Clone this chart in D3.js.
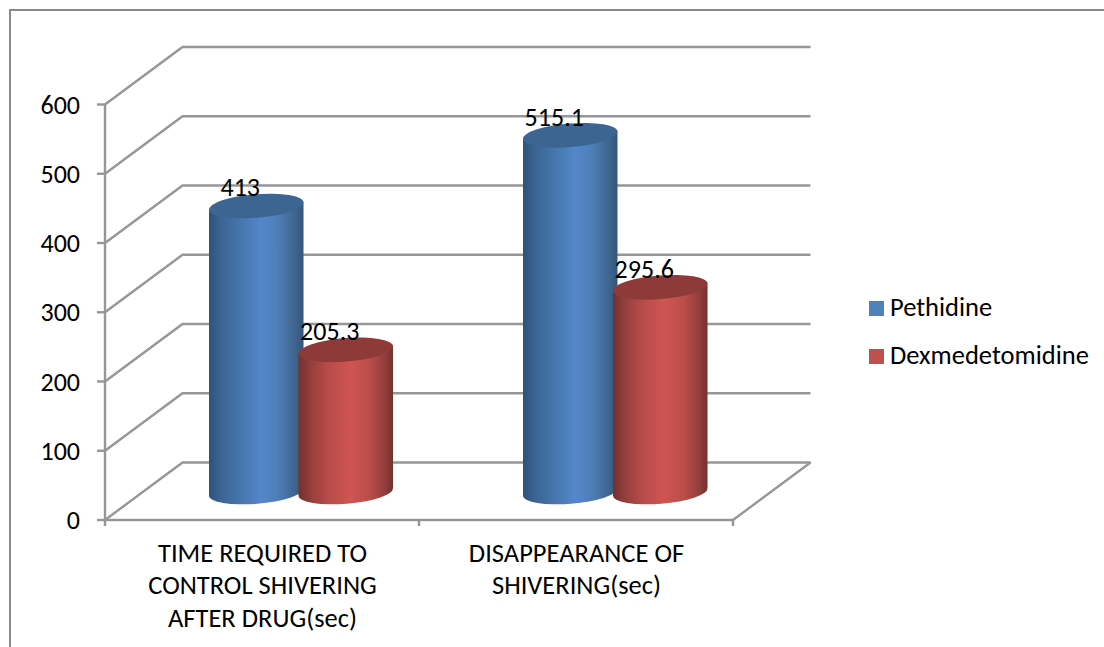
<!DOCTYPE html>
<html>
<head>
<meta charset="utf-8">
<script src="https://cdnjs.cloudflare.com/ajax/libs/d3/7.8.5/d3.min.js"></script>
<style>
html,body{margin:0;padding:0;background:#fff;}
svg{display:block;}
text{font-family:"Carlito","Lato","Open Sans",sans-serif;fill:#000;}
</style>
</head>
<body>
<svg id="chart" width="1104" height="647"></svg>
<script>
const categories = [
  ["TIME REQUIRED TO", "CONTROL SHIVERING", "AFTER DRUG(sec)"],
  ["DISAPPEARANCE OF", "SHIVERING(sec)"]
];
const seriesNames = ["Pethidine", "Dexmedetomidine"];
const pethidine = [413, 515.1];
const dexmedetomidine = [205.3, 295.6];
const valueLabels = [["413", "515.1"], ["205.3", "295.6"]];
const ticks = [0, 100, 200, 300, 400, 500, 600];

const svg = d3.select("#chart");
const grid = "#969696";

// Front plane, back wall offset and the scale used by the cylinders
const yFront = d3.scaleLinear().domain([0, 600]).range([520, 104.5]);
const depth = {dx: 77.5, dy: -57.5};
const xFront = d3.scaleLinear().domain([0, 2]).range([105, 733]);
const yBar = d3.scaleLinear().domain([0, 600]).range([492, 76.5]);

// Outer chart frame
svg.append("path")
  .attr("d", "M10,647V10H1104")
  .attr("fill", "none").attr("stroke", "#8a8a8a").attr("stroke-width", 2);

// Gridlines on the side and back walls
const walls = svg.append("g").attr("fill", "none").attr("stroke", grid).attr("stroke-width", 2.4);
walls.selectAll("path").data(ticks).join("path")
  .attr("d", t => {
    const y = yFront(t);
    return `M${xFront(0)},${y}L${xFront(0) + depth.dx},${y + depth.dy}H${xFront(2) + depth.dx}`;
  });
walls.append("path")
  .attr("d", `M${xFront(2)},${yFront(0)}L${xFront(2) + depth.dx},${yFront(0) + depth.dy}`);

// Axis lines and tick marks
const axes = svg.append("g").attr("fill", "none").attr("stroke", grid).attr("stroke-width", 2.4);
axes.append("path").attr("d", `M${xFront(0)},${yFront(600)}V${yFront(0)}H${xFront(2)}`);
axes.selectAll(".ytick").data(ticks).join("path").attr("class", "ytick")
  .attr("d", t => `M${xFront(0) - 8},${yFront(t)}H${xFront(0)}`);
axes.selectAll(".xtick").data([0, 1, 2]).join("path").attr("class", "xtick")
  .attr("d", i => `M${xFront(i)},${yFront(0)}V${yFront(0) + 6}`);

// Value axis labels
svg.append("g").selectAll("text").data(ticks).join("text")
  .attr("x", 80).attr("y", t => yFront(t) + 9)
  .attr("text-anchor", "end").attr("font-size", 26)
  .text(d => d);

// Shading across the cylinder sides
const defs = svg.append("defs");
const shades = [
  [["0%", "#2f5279"], ["12%", "#3a6492"], ["30%", "#4573a8"], ["55%", "#5387ca"], ["72%", "#4f7fb9"], ["90%", "#3f6692"], ["100%", "#345679"]],
  [["0%", "#74302e"], ["14%", "#96403e"], ["32%", "#b94c4a"], ["55%", "#cf5552"], ["75%", "#bb4d4a"], ["92%", "#8f3e3b"], ["100%", "#742f2d"]]
];
shades.forEach((stops, i) => {
  const g = defs.append("linearGradient").attr("id", `side${i}`)
    .attr("x1", 0).attr("x2", 1).attr("y1", 0).attr("y2", 0);
  stops.forEach(s => g.append("stop").attr("offset", s[0]).attr("stop-color", s[1]));
});
const topColors = ["#3c6592", "#8e3a38"];
const series = [pethidine, dexmedetomidine];
const barLeft = [[209, 523], [298.5, 613]];
const barWidth = 94.5;
const rx = barWidth / 2, ry = 11.8, tilt = -4.5, lift = 3.7;

// Blue cylinders are drawn first so the red ones sit in front
series.forEach((vals, s) => {
  const g = svg.append("g");
  vals.forEach((v, c) => {
    const x0 = barLeft[s][c], x1 = x0 + barWidth;
    const yb = yBar(0), yt = yBar(v);
    g.append("path")
      .attr("d", `M${x0},${yt + lift}L${x0},${yb + lift}A${rx},${ry} ${tilt} 0 0 ${x1},${yb - lift}L${x1},${yt - lift}Z`)
      .attr("fill", `url(#side${s})`);
    g.append("ellipse")
      .attr("cx", x0 + rx).attr("cy", yt)
      .attr("rx", rx + 0.2).attr("ry", ry)
      .attr("transform", `rotate(${tilt} ${x0 + rx} ${yt})`)
      .attr("fill", topColors[s]);
  });
});

// Data labels above each cylinder
series.forEach((vals, s) => {
  vals.forEach((v, c) => {
    svg.append("text")
      .attr("x", barLeft[s][c] + rx - 16).attr("y", yBar(v) - 9.5)
      .attr("text-anchor", "middle").attr("font-size", 26)
      .text(valueLabels[s][c]);
  });
});

// Category labels
const catCenter = [262.5, 576.5];
categories.forEach((lines, c) => {
  svg.append("text").attr("text-anchor", "middle").attr("font-size", 26.5)
    .selectAll("tspan").data(lines).join("tspan")
    .attr("x", catCenter[c])
    .attr("y", (d, i) => 562 + i * 32.3)
    .text(d => d);
});

// Legend
const legendColors = ["#4f81bd", "#c0504d"];
const legend = svg.append("g");
seriesNames.forEach((name, i) => {
  const y = 301 + i * 48;
  legend.append("rect").attr("x", 869).attr("y", y).attr("width", 15).attr("height", 15).attr("fill", legendColors[i]);
  legend.append("text").attr("x", 890).attr("y", y + 15).attr("font-size", 26.5).text(name);
});
</script>
</body>
</html>
